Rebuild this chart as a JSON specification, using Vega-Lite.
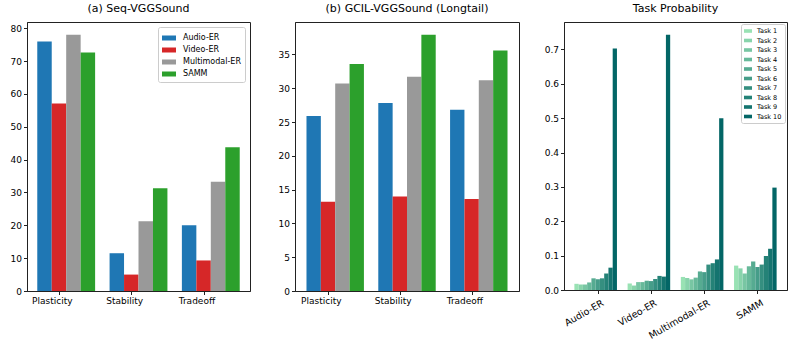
{
  "$schema": "https://vega.github.io/schema/vega-lite/v6.json",
  "background": "white",
  "padding": {"left": 2, "top": 2, "right": 0, "bottom": 0},
  "spacing": 19,
  "resolve": {
    "scale": {"color": "independent", "xOffset": "independent", "x": "independent", "y": "independent"},
    "legend": {"color": "independent"},
    "axis": {"x": "independent", "y": "independent"}
  },
  "config": {
    "font": "DejaVu Sans",
    "view": {"stroke": "#222", "strokeWidth": 1},
    "title": {"fontSize": 11, "fontWeight": "normal", "color": "#000", "offset": 8, "font": "DejaVu Sans"},
    "axis": {
      "labelFont": "DejaVu Sans", "labelFontSize": 9, "labelColor": "#000",
      "tickColor": "#222", "domainColor": "#222", "tickSize": 3.5, "labelPadding": 2,
      "grid": false, "title": null
    },
    "axisY": {"minExtent": 24, "maxExtent": 24},
    "legend": {"labelFont": "DejaVu Sans"}
  },
  "hconcat": [
    {
      "title": "(a) Seq-VGGSound",
      "width": 223, "height": 269,
      "data": {"values": [
        {"metric": "Plasticity", "method": "Audio-ER", "value": 76.0},
        {"metric": "Plasticity", "method": "Video-ER", "value": 57.1},
        {"metric": "Plasticity", "method": "Multimodal-ER", "value": 78.0},
        {"metric": "Plasticity", "method": "SAMM", "value": 72.6},
        {"metric": "Stability", "method": "Audio-ER", "value": 11.5},
        {"metric": "Stability", "method": "Video-ER", "value": 5.0},
        {"metric": "Stability", "method": "Multimodal-ER", "value": 21.2},
        {"metric": "Stability", "method": "SAMM", "value": 31.3},
        {"metric": "Tradeoff", "method": "Audio-ER", "value": 20.0},
        {"metric": "Tradeoff", "method": "Video-ER", "value": 9.3},
        {"metric": "Tradeoff", "method": "Multimodal-ER", "value": 33.3},
        {"metric": "Tradeoff", "method": "SAMM", "value": 43.8}
      ]},
      "mark": {"type": "bar"},
      "encoding": {
        "x": {"field": "metric", "type": "nominal", "sort": ["Plasticity", "Stability", "Tradeoff"],
              "scale": {"paddingInner": 0.2, "paddingOuter": 0.142},
              "axis": {"labelAngle": 0, "labelOffset": -7.2, "tickOffset": -7.2}},
        "xOffset": {"field": "method", "type": "nominal", "sort": ["Audio-ER", "Video-ER", "Multimodal-ER", "SAMM"], "scale": {"paddingInner": 0, "paddingOuter": 0}},
        "y": {"field": "value", "type": "quantitative",
              "scale": {"domain": [0, 81.9], "nice": false},
              "axis": {"values": [0, 10, 20, 30, 40, 50, 60, 70, 80]}},
        "color": {"field": "method", "type": "nominal",
                  "scale": {"domain": ["Audio-ER", "Video-ER", "Multimodal-ER", "SAMM"], "range": ["#1f77b4", "#d62728", "#999999", "#2ca02c"]},
                  "legend": {"title": null, "orient": "top-right", "offset": 5,
                             "fillColor": "white", "strokeColor": "#cccccc", "cornerRadius": 2, "padding": 4,
                             "labelFontSize": 8, "symbolType": "M-1,-0.357H1V0.357H-1Z", "symbolSize": 196,
                             "symbolStrokeWidth": 0, "rowPadding": 1, "labelOffset": 7, "symbolOpacity": 1}}
      }
    },
    {
      "title": "(b) GCIL-VGGSound (Longtail)",
      "width": 224, "height": 269,
      "data": {"values": [
        {"metric": "Plasticity", "method": "Audio-ER", "value": 25.9},
        {"metric": "Plasticity", "method": "Video-ER", "value": 13.2},
        {"metric": "Plasticity", "method": "Multimodal-ER", "value": 30.7},
        {"metric": "Plasticity", "method": "SAMM", "value": 33.6},
        {"metric": "Stability", "method": "Audio-ER", "value": 27.8},
        {"metric": "Stability", "method": "Video-ER", "value": 14.0},
        {"metric": "Stability", "method": "Multimodal-ER", "value": 31.7},
        {"metric": "Stability", "method": "SAMM", "value": 37.9},
        {"metric": "Tradeoff", "method": "Audio-ER", "value": 26.8},
        {"metric": "Tradeoff", "method": "Video-ER", "value": 13.6},
        {"metric": "Tradeoff", "method": "Multimodal-ER", "value": 31.2},
        {"metric": "Tradeoff", "method": "SAMM", "value": 35.6}
      ]},
      "mark": {"type": "bar"},
      "encoding": {
        "x": {"field": "metric", "type": "nominal", "sort": ["Plasticity", "Stability", "Tradeoff"],
              "scale": {"paddingInner": 0.2, "paddingOuter": 0.16},
              "axis": {"labelAngle": 0, "labelOffset": -7.2, "tickOffset": -7.2}},
        "xOffset": {"field": "method", "type": "nominal", "sort": ["Audio-ER", "Video-ER", "Multimodal-ER", "SAMM"], "scale": {"paddingInner": 0, "paddingOuter": 0}},
        "y": {"field": "value", "type": "quantitative",
              "scale": {"domain": [0, 39.8], "nice": false},
              "axis": {"values": [0, 5, 10, 15, 20, 25, 30, 35]}},
        "color": {"field": "method", "type": "nominal",
                  "scale": {"domain": ["Audio-ER", "Video-ER", "Multimodal-ER", "SAMM"], "range": ["#1f77b4", "#d62728", "#999999", "#2ca02c"]},
                  "legend": null}
      }
    },
    {
      "title": "Task Probability",
      "width": 223, "height": 268,
      "data": {"values": [
        {"method": "Audio-ER", "task": "Task 1", "p": 0.018},
        {"method": "Audio-ER", "task": "Task 2", "p": 0.016},
        {"method": "Audio-ER", "task": "Task 3", "p": 0.016},
        {"method": "Audio-ER", "task": "Task 4", "p": 0.022},
        {"method": "Audio-ER", "task": "Task 5", "p": 0.034},
        {"method": "Audio-ER", "task": "Task 6", "p": 0.031},
        {"method": "Audio-ER", "task": "Task 7", "p": 0.034},
        {"method": "Audio-ER", "task": "Task 8", "p": 0.048},
        {"method": "Audio-ER", "task": "Task 9", "p": 0.065},
        {"method": "Audio-ER", "task": "Task 10", "p": 0.703},
        {"method": "Video-ER", "task": "Task 1", "p": 0.019},
        {"method": "Video-ER", "task": "Task 2", "p": 0.013},
        {"method": "Video-ER", "task": "Task 3", "p": 0.023},
        {"method": "Video-ER", "task": "Task 4", "p": 0.023},
        {"method": "Video-ER", "task": "Task 5", "p": 0.027},
        {"method": "Video-ER", "task": "Task 6", "p": 0.026},
        {"method": "Video-ER", "task": "Task 7", "p": 0.032},
        {"method": "Video-ER", "task": "Task 8", "p": 0.041},
        {"method": "Video-ER", "task": "Task 9", "p": 0.039},
        {"method": "Video-ER", "task": "Task 10", "p": 0.743},
        {"method": "Multimodal-ER", "task": "Task 1", "p": 0.038},
        {"method": "Multimodal-ER", "task": "Task 2", "p": 0.035},
        {"method": "Multimodal-ER", "task": "Task 3", "p": 0.031},
        {"method": "Multimodal-ER", "task": "Task 4", "p": 0.036},
        {"method": "Multimodal-ER", "task": "Task 5", "p": 0.054},
        {"method": "Multimodal-ER", "task": "Task 6", "p": 0.052},
        {"method": "Multimodal-ER", "task": "Task 7", "p": 0.074},
        {"method": "Multimodal-ER", "task": "Task 8", "p": 0.078},
        {"method": "Multimodal-ER", "task": "Task 9", "p": 0.089},
        {"method": "Multimodal-ER", "task": "Task 10", "p": 0.500},
        {"method": "SAMM", "task": "Task 1", "p": 0.071},
        {"method": "SAMM", "task": "Task 2", "p": 0.063},
        {"method": "SAMM", "task": "Task 3", "p": 0.048},
        {"method": "SAMM", "task": "Task 4", "p": 0.069},
        {"method": "SAMM", "task": "Task 5", "p": 0.083},
        {"method": "SAMM", "task": "Task 6", "p": 0.067},
        {"method": "SAMM", "task": "Task 7", "p": 0.074},
        {"method": "SAMM", "task": "Task 8", "p": 0.099},
        {"method": "SAMM", "task": "Task 9", "p": 0.120},
        {"method": "SAMM", "task": "Task 10", "p": 0.298}
      ]},
      "mark": {"type": "bar"},
      "encoding": {
        "x": {"field": "method", "type": "nominal", "sort": ["Audio-ER", "Video-ER", "Multimodal-ER", "SAMM"],
              "scale": {"paddingInner": 0.2, "paddingOuter": 0.195},
              "axis": {"labelAngle": -30, "labelAlign": "right", "labelBaseline": "top", "labelOffset": 2.1, "tickOffset": 2.1, "labelPadding": 4, "labelFontSize": 9.5}},
        "xOffset": {"field": "task", "type": "nominal",
                    "sort": ["Task 1", "Task 2", "Task 3", "Task 4", "Task 5", "Task 6", "Task 7", "Task 8", "Task 9", "Task 10"],
                    "scale": {"paddingInner": 0, "paddingOuter": 0}},
        "y": {"field": "p", "type": "quantitative",
              "scale": {"domain": [0, 0.78], "nice": false},
              "axis": {"values": [0, 0.1, 0.2, 0.3, 0.4, 0.5, 0.6, 0.7], "format": ".1f"}},
        "color": {"field": "task", "type": "nominal",
                  "scale": {"domain": ["Task 1", "Task 2", "Task 3", "Task 4", "Task 5", "Task 6", "Task 7", "Task 8", "Task 9", "Task 10"],
                            "range": ["#99e2b4", "#88d4ab", "#78c6a3", "#67b99a", "#56ab91", "#469d89", "#358f80", "#248277", "#14746f", "#036666"]},
                  "legend": {"title": null, "orient": "top-right", "offset": 2,
                             "fillColor": "white", "strokeColor": "#cccccc", "cornerRadius": 2, "padding": 3,
                             "labelFontSize": 6.5, "symbolType": "M-1,-0.45H1V0.45H-1Z", "symbolSize": 64,
                             "symbolStrokeWidth": 0, "rowPadding": 1.5, "labelOffset": 5, "symbolOpacity": 1}}
      }
    }
  ]
}
